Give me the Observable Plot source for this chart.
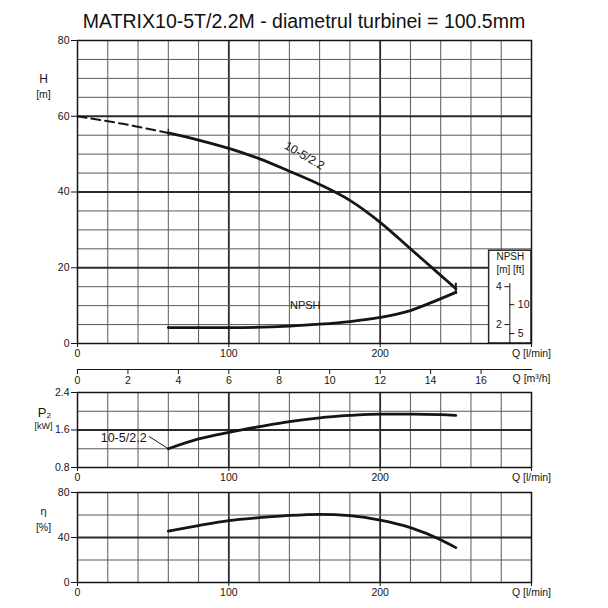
<!DOCTYPE html>
<html>
<head>
<meta charset="utf-8">
<script src="https://cdn.jsdelivr.net/npm/d3@7"></script>
<script src="https://cdn.jsdelivr.net/npm/@observablehq/plot@0.6"></script>
<style>
  html, body { margin: 0; padding: 0; background: white; }
  #root { position: relative; width: 608px; height: 608px; overflow: hidden; background: white; }
  #title { position: absolute; left: 0; top: 9px; width: 608px; text-align: center;
           font-family: "Liberation Sans", Arial, sans-serif; font-size: 19.5px; color: #111; line-height: 24px; }
  .panel { position: absolute; left: 0; }
</style>
</head>
<body>
<div id="root">
  <div id="title">MATRIX10-5T/2.2M - diametrul turbinei = 100.5mm</div>
</div>
<script>
// ---------- data ----------
const curveName = "10-5/2.2";

// head curve, dashed part (l/min, m)
const qDash = [0, 30, 60];
const hDash = [60, 58, 55.6];
// head curve, solid part
const qCurve = [60, 80, 100, 120, 140, 160, 180, 200, 220, 240, 250];
const hCurve = [55.6, 53.7, 51.5, 48.8, 45.5, 42.0, 37.8, 32.0, 25.0, 18.0, 14.5];
// NPSH curve (m, on the inset scale)
const qNpsh = [60, 100, 140, 160, 180, 200, 220, 235, 250];
const npshM = [1.84, 1.84, 1.92, 2.02, 2.16, 2.38, 2.74, 3.2, 3.7];
// power P2 (kW)
const p2 = [1.20, 1.41, 1.55, 1.67, 1.78, 1.86, 1.91, 1.94, 1.94, 1.93, 1.91];
// efficiency (%)
const eta = [45.6, 50.6, 55.0, 57.6, 59.6, 60.6, 59.4, 55.5, 48.8, 38.0, 31.0];

// tick labels
const qTicks = [0, 100, 200];
const hTicks = [0, 20, 40, 60, 80];
const pTicks = [0.8, 1.6, 2.4];
const etaTicks = [0, 40, 80];
const m3hTicks = [0, 2, 4, 6, 8, 10, 12, 14, 16];
const npshMTicks = [2, 4];
const npshFtTicks = [5, 10];

// ---------- helpers ----------
const FONT = '"Liberation Sans Narrow", "Liberation Sans", Arial, sans-serif';
const root = document.getElementById("root");
const QMAX = 300;
const minorQ = d3.range(20, QMAX, 20).filter(q => q % 100 !== 0);
const majorQ = [100, 200];
const GRID = "#5a5a5a", GRIDMAJ = "#2a2a2a", INK = "#151515";

function place(svg, top) {
  svg.classList.add("panel");
  svg.style.top = top + "px";
  root.appendChild(svg);
}
function baseStyle() {
  return {background: "transparent", fontFamily: FONT, fontSize: "10.5px", color: INK, overflow: "visible"};
}
function qGrid() {
  return [
    Plot.ruleX(minorQ, {stroke: GRID, strokeWidth: 1}),
    Plot.ruleX(majorQ, {stroke: GRIDMAJ, strokeWidth: 1.8})
  ];
}
function qAxis() {
  return Plot.axisX({ticks: [...qTicks, QMAX], tickFormat: d => d === QMAX ? "Q [l/min]" : String(d),
                     tickSize: 4, tickPadding: 2, label: null, stroke: INK});
}
function sideLabel(t, dx, dy, fs) {
  return Plot.text([t], {frameAnchor: "top-left", dx, dy, text: d => d, textAnchor: "middle", fontSize: fs, fill: INK});
}

// ---------- panel 1 : H and NPSH ----------
const headDash = qDash.map((q, i) => ({q, h: hDash[i]}));
const head = qCurve.map((q, i) => ({q, h: hCurve[i]}));
const toH = m => 5 * (m - 1);          // inset NPSH metres -> drawing units of the H grid
const npsh = qNpsh.map((q, i) => ({q, h: toH(npshM[i])}));
const insetQ = 272, insetTop = 24.5, npshAxisQ = 285.7, tickLen = 3.3;

const p1 = Plot.plot({
  width: 608, height: 333, marginLeft: 77, marginRight: 77, marginTop: 10, marginBottom: 20,
  x: {domain: [0, QMAX]}, y: {domain: [0, 80]},
  style: baseStyle(),
  marks: [
    ...qGrid(),
    Plot.ruleY(d3.range(5, 80, 5).filter(h => h % 20 !== 0), {stroke: GRID, strokeWidth: 1}),
    Plot.ruleY([20, 40, 60], {stroke: GRIDMAJ, strokeWidth: 1.8}),
    // NPSH inset box
    Plot.rect([0], {x1: insetQ, x2: QMAX, y1: 0, y2: insetTop, fill: "white", stroke: GRIDMAJ, strokeWidth: 1.5}),
    Plot.text([{t: "NPSH", h: 22.8}, {t: "[m] [ft]", h: 19.4}], {x: 286, y: "h", text: "t", fontSize: 10, fill: INK}),
    Plot.ruleX([npshAxisQ], {y1: 0, y2: toH(4) + 0.8, stroke: INK, strokeWidth: 1}),
    Plot.ruleY(npshMTicks, {y: toH, x1: npshAxisQ - tickLen, x2: npshAxisQ, stroke: INK}),
    Plot.text(npshMTicks, {y: toH, x: npshAxisQ - tickLen, dx: -3, textAnchor: "end", text: d => String(d), fontSize: 10.5, fill: INK}),
    Plot.ruleY(npshFtTicks, {y: f => toH(f * 0.3048), x1: npshAxisQ, x2: npshAxisQ + tickLen, stroke: INK}),
    Plot.text(npshFtTicks, {y: f => toH(f * 0.3048), x: npshAxisQ + tickLen, dx: 3, textAnchor: "start", text: d => String(d), fontSize: 10.5, fill: INK}),
    Plot.frame({stroke: INK, strokeWidth: 1.5}),
    Plot.axisY({ticks: hTicks, tickSize: 6, tickPadding: 2, label: null, stroke: INK}),
    qAxis(),
    sideLabel("H", -34, 34, 12),
    sideLabel("[m]", -34, 50, 10.5),
    // curves
    Plot.line(headDash, {x: "q", y: "h", stroke: INK, strokeWidth: 2, strokeDasharray: "9,5"}),
    Plot.line(head, {x: "q", y: "h", stroke: INK, strokeWidth: 2.8, curve: "monotone-x"}),
    Plot.line(npsh, {x: "q", y: "h", stroke: INK, strokeWidth: 2.8, curve: "monotone-x"}),
    Plot.ruleX([qCurve[qCurve.length - 1]], {y1: 13, y2: 15.9, stroke: INK, strokeWidth: 2}),
    Plot.ruleX([qCurve[0]], {y1: 54.6, y2: 56.6, stroke: INK, strokeWidth: 1.2}),
    Plot.text([{t: curveName, q: 150, h: 49.6}], {x: "q", y: "h", text: "t", rotate: 30, fontSize: 12, fill: INK}),
    Plot.text([{t: "NPSH", q: 150.5, h: 10}], {x: "q", y: "h", text: "t", fontSize: 11, fill: INK})
  ]
});
place(p1, 30);

// ---------- m3/h axis ----------
const pm = Plot.plot({
  width: 608, height: 31, marginLeft: 77, marginRight: 77, marginTop: 8, marginBottom: 22,
  x: {domain: [0, QMAX * 60 / 1000]},
  style: baseStyle(),
  marks: [
    Plot.frame({anchor: "bottom", stroke: INK, strokeWidth: 1.2}),
    Plot.axisX({ticks: m3hTicks, tickSize: 5, tickPadding: 2, label: null, stroke: INK}),
    Plot.text(["Q [m³/h]"], {frameAnchor: "bottom-right", dy: 12, text: d => d, textAnchor: "middle", fontSize: 10.5, fill: INK})
  ]
});
place(pm, 360);

// ---------- panel 2 : P2 ----------
const power = qCurve.map((q, i) => ({q, p: p2[i]}));
const pp = Plot.plot({
  width: 608, height: 107, marginLeft: 77, marginRight: 77, marginTop: 12, marginBottom: 20,
  x: {domain: [0, QMAX]}, y: {domain: [0.8, 2.4]},
  style: baseStyle(),
  marks: [
    ...qGrid(),
    Plot.ruleY([1.2, 2.0], {stroke: GRID, strokeWidth: 1}),
    Plot.ruleY([1.6], {stroke: GRIDMAJ, strokeWidth: 1.8}),
    Plot.frame({stroke: INK, strokeWidth: 1.5}),
    Plot.axisY({ticks: pTicks, tickFormat: d => d.toFixed(1), tickSize: 6, tickPadding: 2, label: null, stroke: INK}),
    qAxis(),
    sideLabel("P₂", -33, 15, 13),
    sideLabel("[kW]", -34, 30, 9),
    Plot.line(power, {x: "q", y: "p", stroke: INK, strokeWidth: 2.8, curve: "monotone-x"}),
    Plot.line([{q: 47.4, p: 1.46}, {q: qCurve[0], p: p2[0]}], {x: "q", y: "p", stroke: INK, strokeWidth: 1}),
    Plot.text([{t: curveName, q: 30.5, p: 1.44}], {x: "q", y: "p", text: "t", fontSize: 12.5, fill: INK})
  ]
});
place(pp, 380);

// ---------- panel 3 : efficiency ----------
const eff = qCurve.map((q, i) => ({q, e: eta[i]}));
const pe = Plot.plot({
  width: 608, height: 122, marginLeft: 77, marginRight: 77, marginTop: 12, marginBottom: 20,
  x: {domain: [0, QMAX]}, y: {domain: [0, 80]},
  style: baseStyle(),
  marks: [
    ...qGrid(),
    Plot.ruleY([20, 60], {stroke: GRID, strokeWidth: 1}),
    Plot.ruleY([40], {stroke: GRIDMAJ, strokeWidth: 1.8}),
    Plot.frame({stroke: INK, strokeWidth: 1.5}),
    Plot.axisY({ticks: etaTicks, tickSize: 6, tickPadding: 2, label: null, stroke: INK}),
    qAxis(),
    sideLabel("η", -34, 15, 11),
    sideLabel("[%]", -34, 31, 10.5),
    Plot.line(eff, {x: "q", y: "e", stroke: INK, strokeWidth: 2.8, curve: "monotone-x"})
  ]
});
place(pe, 480);
</script>
</body>
</html>
